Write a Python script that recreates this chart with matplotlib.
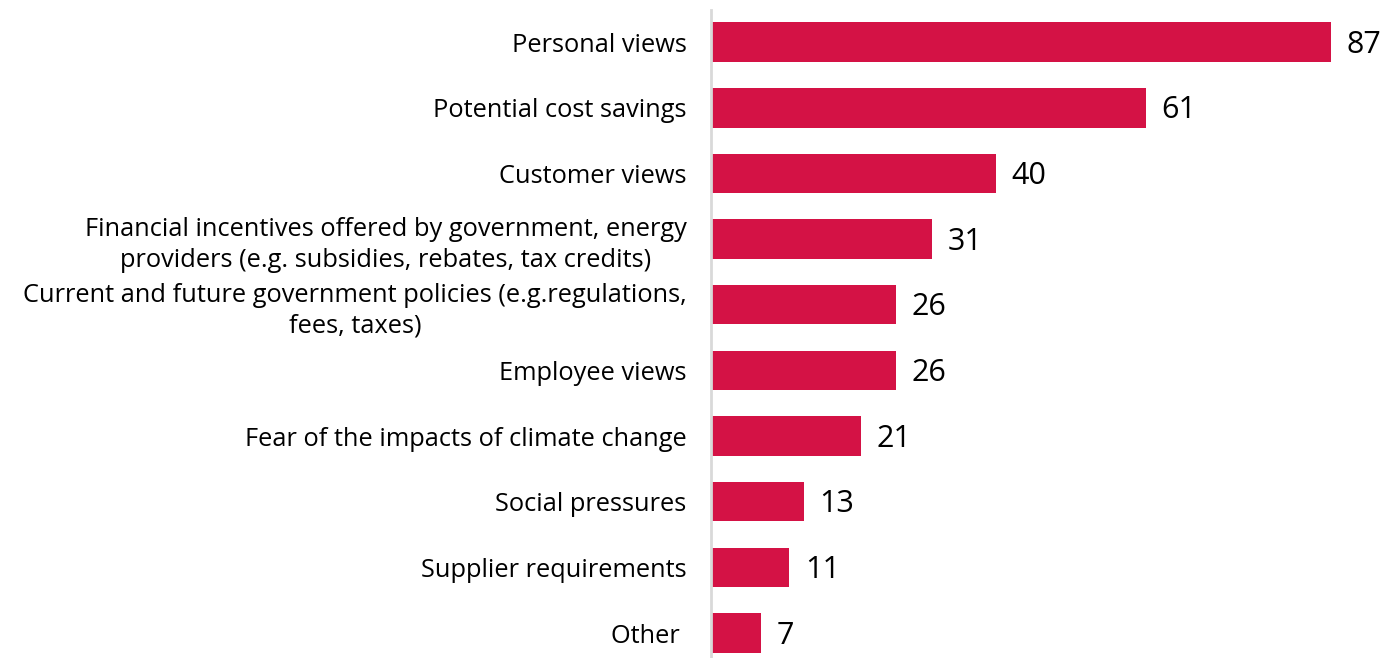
import matplotlib
matplotlib.use("Agg")
import matplotlib.pyplot as plt

categories = [
    "Personal views",
    "Potential cost savings",
    "Customer views",
    "Financial incentives offered by government, energy\nproviders (e.g. subsidies, rebates, tax credits)",
    "Current and future government policies (e.g.regulations,\nfees, taxes)",
    "Employee views",
    "Fear of the impacts of climate change",
    "Social pressures",
    "Supplier requirements",
    "Other ",
]
values = [87, 61, 40, 31, 26, 26, 21, 13, 11, 7]

plt.rcParams['font.family'] = ['Open Sans', 'DejaVu Sans']

W, H = 1395, 658
fig = plt.figure(figsize=(W / 100, H / 100), dpi=100)
ax = fig.add_axes([711 / W, 0, (1388 - 711) / W, 648 / H])

y = list(range(len(categories)))
ax.barh(y, values, height=0.6, color="#D41245")
ax.set_ylim(9.38, -0.49)
ax.set_xlim(0, 95)

ax.set_yticks(y)
ax.set_yticklabels(categories, fontsize=18.3, multialignment="center", linespacing=1.3)
ax.tick_params(axis="y", length=0, pad=17.5)
ax.set_xticks([])

for s in ["top", "right", "bottom"]:
    ax.spines[s].set_visible(False)
ax.spines["left"].set_color("#d9d9d9")
ax.spines["left"].set_linewidth(2)

for yi, v in zip(y, values):
    ax.text(v + 2.2, yi + 0.04, str(v), va="center", ha="left", fontsize=22, color="black")

fig.savefig("out.png", dpi=100)
